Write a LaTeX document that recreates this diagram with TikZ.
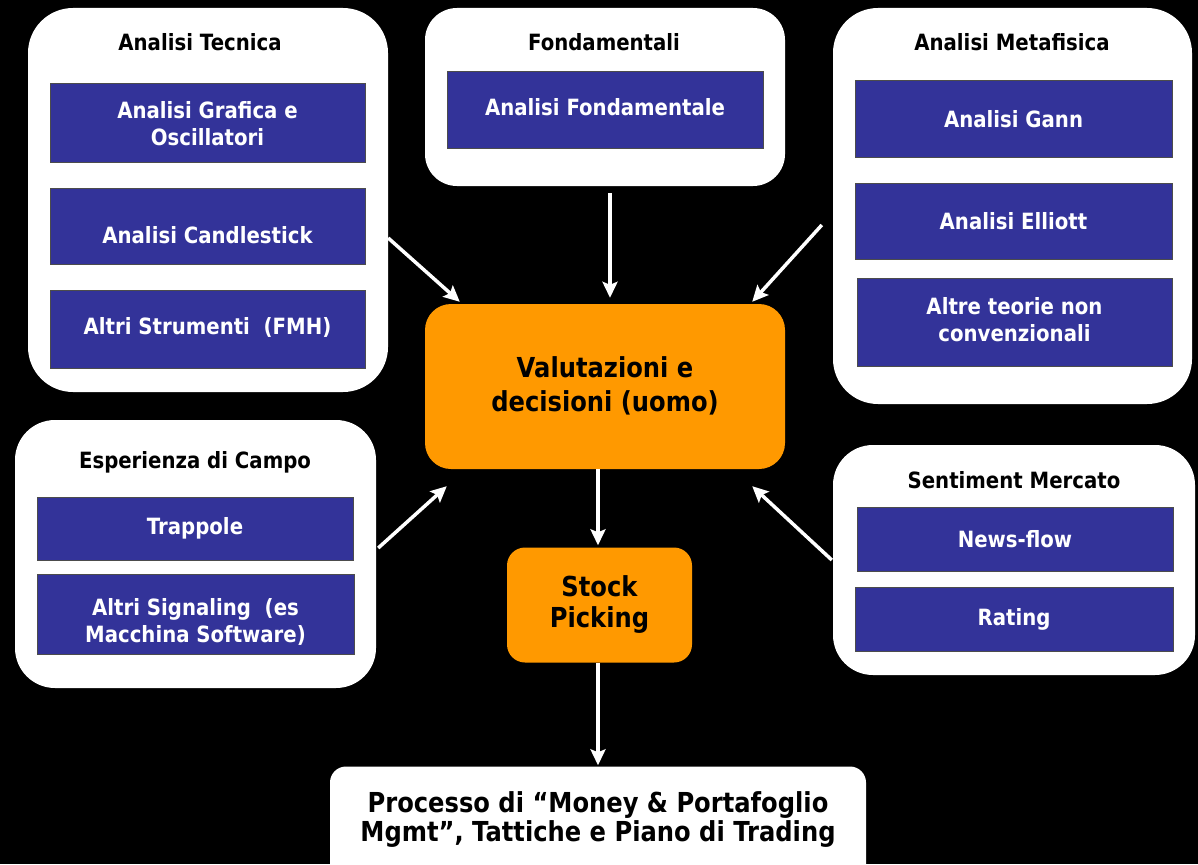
\documentclass[tikz,border=0pt]{standalone}
\usepackage{fontspec}
\newfontfamily\tf{DejaVu Sans}[FakeStretch=0.88]
\usetikzlibrary{arrows.meta,calc}
\definecolor{boxblue}{HTML}{333399}
\definecolor{boxorange}{HTML}{FF9900}
\newcommand{\shiftup}[2]{\raisebox{#1}[\height][\depth]{#2}}
\begin{document}
\begin{tikzpicture}[x=1pt,y=-1pt,
  group/.style={fill=white,draw=none,rounded corners=#1,inner sep=0pt},
  group/.default=42pt,
  grouptitle/.style={font=\tf\bfseries\fontsize{22.4}{28}\selectfont,text=black,inner sep=0pt},
  item/.style={fill=boxblue,draw=black!70,line width=1pt,inner sep=0pt,
    font=\tf\bfseries\fontsize{22.4}{28}\selectfont,text=white,align=center},
  decide/.style={fill=boxorange,draw=none,inner sep=0pt,
    font=\tf\bfseries\fontsize{27.5}{31}\selectfont,text=black,align=center},
  flow/.style={draw=white,line width=3.5pt,-{Stealth[length=16pt,width=15pt,inset=3pt]}}
]
\fill[black] (0,0) rectangle (1198,864);
\clip (0,0) rectangle (1198,864);
\useasboundingbox (0,0) rectangle (1198,864);

% white group boxes
\node[group=45pt,minimum width=360pt,minimum height=384pt] (tec) at (208,200) {};
\node[group=32pt,minimum width=360pt,minimum height=178pt] (fond) at (605,97) {};
\node[group=45pt,minimum width=359pt,minimum height=396pt] (meta) at (1012.5,206) {};
\node[group=40pt,minimum width=361pt,minimum height=268pt] (esp) at (195.5,554) {};
\node[group=40pt,minimum width=362pt,minimum height=230pt] (sent) at (1014,560) {};

% titles
\node[grouptitle] (tect) at (200,42) {Analisi Tecnica};
\node[grouptitle] (fondt) at (604,42) {Fondamentali};
\node[grouptitle] (metat) at (1012,42) {Analisi Metafisica};
\node[grouptitle] (espt) at (195,462) {Esperienza di Campo};
\node[grouptitle] (sentt) at (1014,480) {Sentiment Mercato};

% blue items
\node[item,minimum width=315pt,minimum height=78pt] (g1) at (207.5,123) {\shiftup{-3pt}{\begin{tabular}{@{}c@{}}Analisi Grafica e\\[-1pt]Oscillatori\end{tabular}}};
\node[item,minimum width=315pt,minimum height=76pt] (g2) at (207.5,226) {\shiftup{-9pt}{Analisi Candlestick}};
\node[item,minimum width=315pt,minimum height=78pt] (g3) at (207.5,329) {\shiftup{2pt}{Altri Strumenti\ \ (FMH)}};
\node[item,minimum width=316pt,minimum height=76pt] (f1) at (605,110) {\shiftup{3pt}{Analisi Fondamentale}};
\node[item,minimum width=317pt,minimum height=76pt] (m1) at (1013.5,119) {Analisi Gann};
\node[item,minimum width=317pt,minimum height=76pt] (m2) at (1013.5,221) {Analisi Elliott};
\node[item,minimum width=315pt,minimum height=88pt] (m3) at (1014.5,322) {\begin{tabular}{@{}c@{}}Altre teorie non\\[-1pt]convenzionali\end{tabular}};
\node[item,minimum width=316pt,minimum height=63pt] (e1) at (195,528.5) {Trappole};
\node[item,minimum width=317pt,minimum height=80pt] (e2) at (195.5,614) {\shiftup{-9pt}{\begin{tabular}{@{}c@{}}Altri Signaling\ \ (es\\[-1pt]Macchina Software)\end{tabular}}};
\node[item,minimum width=316pt,minimum height=64pt] (s1) at (1015,539) {News-flow};
\node[item,minimum width=318pt,minimum height=64pt] (s2) at (1014,619) {Rating};

% orange decisions
\node[decide,rounded corners=26pt,minimum width=360pt,minimum height=165pt,
  font=\tf\bfseries\fontsize{27.5}{34}\selectfont] (main) at (605,386.5) {\shiftup{-1pt}{\begin{tabular}{@{}c@{}}Valutazioni e\\decisioni (uomo)\end{tabular}}};
\node[decide,rounded corners=18pt,minimum width=185pt,minimum height=115pt] (stock) at (599.5,605) {Stock\\Picking};
\node[fill=white,rounded corners=16pt,inner sep=0pt,minimum width=536pt,minimum height=123pt,
  font=\tf\bfseries\fontsize{27.5}{30}\selectfont,text=black,align=center] (proc) at (598,828)
  {\shiftup{7pt}{\begin{tabular}{@{}c@{}}Processo di “Money \& Portafoglio\\[-1pt]Mgmt”, Tattiche e Piano di Trading\end{tabular}}};

% connectors
\draw[flow] ([yshift=-38pt]tec.east) -- ([xshift=35pt,yshift=2pt]main.north west);
\draw[flow] ([xshift=5pt,yshift=-7pt]fond.south) -- ([xshift=5pt,yshift=6pt]main.north);
\draw[flow] ([xshift=-11pt,yshift=-19pt]meta.west) -- ([xshift=-33pt,yshift=2pt]main.north east);
\draw[flow] ([xshift=2pt,yshift=6pt]esp.east) -- ([xshift=22pt,yshift=-17pt]main.south west);
\draw[flow] ([xshift=-1pt]sent.west) -- ([xshift=-33pt,yshift=-17pt]main.south east);
\draw[flow] ([xshift=-1.5pt]main.south -| stock.north) -- ([xshift=-1.5pt,yshift=2pt]stock.north);
\draw[flow] ([xshift=-1.5pt]stock.south) -- ([xshift=-1.5pt,yshift=1pt]stock.south |- proc.north);
\end{tikzpicture}
\end{document}
